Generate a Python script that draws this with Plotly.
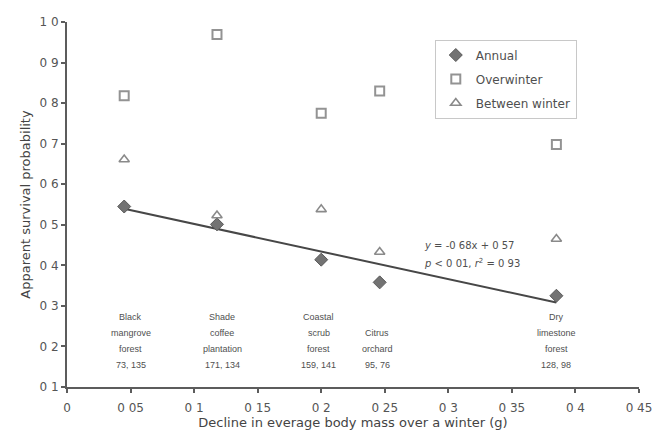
import plotly.graph_objects as go

# Data
habitat_lines = [["Black", "mangrove", "forest", "73, 135"],
                 ["Shade", "coffee", "plantation", "171, 134"],
                 ["Coastal", "scrub", "forest", "159, 141"],
                 ["Citrus", "orchard", "95, 76"],
                 ["Dry", "limestone", "forest", "128, 98"]]
mass_decline = [0.045, 0.118, 0.200, 0.246, 0.385]
label_x = [0.050, 0.122, 0.198, 0.244, 0.385]
annual = [0.545, 0.501, 0.414, 0.358, 0.325]
overwinter = [0.818, 0.969, 0.775, 0.830, 0.698]
between_winter = [0.661, 0.523, 0.538, 0.433, 0.465]
fit_slope = -0.68
fit_intercept = 0.57
fit_x = [0.045, 0.385]
fit_y = [fit_slope * v + fit_intercept for v in fit_x]

x_tickvals = [0, 0.05, 0.1, 0.15, 0.2, 0.25, 0.3, 0.35, 0.4, 0.45]
x_ticktext = ["0", "0 05", "0 1", "0 15", "0 2", "0 25", "0 3", "0 35", "0 4", "0 45"]
y_tickvals = [0.1, 0.2, 0.3, 0.4, 0.5, 0.6, 0.7, 0.8, 0.9, 1.0]
y_ticktext = ["0 1", "0 2", "0 3", "0 4", "0 5", "0 6", "0 7", "0 8", "0 9", "1 0"]

WIDE = "DejaVu Sans, Verdana, sans-serif"
NARROW = "Liberation Sans, Arial, sans-serif"
TXT = "#4f4f4f"
fig = go.Figure()

fig.add_trace(go.Scatter(x=fit_x, y=fit_y, mode="lines",
                         line=dict(color="#474747", width=2), showlegend=False,
                         hoverinfo="skip"))
fig.add_trace(go.Scatter(x=mass_decline, y=annual, mode="markers", name="Annual",
                         legendgroup="a",
                         marker=dict(symbol="diamond", size=10, color="#737373",
                                     line=dict(color="#5a5a5a", width=1))))
fig.add_trace(go.Scatter(x=mass_decline, y=overwinter, mode="markers", name="Overwinter",
                         legendgroup="b",
                         marker=dict(symbol="square-open", size=9, color="#939393",
                                     line=dict(width=2))))
fig.add_trace(go.Scatter(x=mass_decline, y=between_winter, mode="markers", name="Between winter",
                         legendgroup="c",
                         marker=dict(symbol="triangle-up-open", size=9, color="#8a8a8a",
                                     line=dict(width=1.6))))

for hx, lines in zip(label_x, habitat_lines):
    n = len(lines)
    for i, line in enumerate(lines):
        fig.add_annotation(x=hx, y=0.155, yshift=16 * (n - 1 - i), text=line,
                           showarrow=False, xanchor="center", yanchor="middle",
                           font=dict(family=NARROW, size=9, color=TXT))

fig.add_annotation(x=0.279, y=0.45, xanchor="left", yanchor="middle", showarrow=False,
                   text="<i>y</i> = -0 68x + 0 57",
                   font=dict(family=WIDE, size=10, color=TXT))
fig.add_annotation(x=0.279, y=0.406, xanchor="left", yanchor="middle", showarrow=False,
                   text="<i>p</i> < 0 01, <i>r</i><sup>2</sup> = 0 93",
                   font=dict(family=WIDE, size=10, color=TXT))

axis_common = dict(showgrid=False, zeroline=False, showline=True, linecolor="#5c5c5c",
                   linewidth=2, ticks="outside", ticklen=4, tickwidth=1.5,
                   tickcolor="#5c5c5c",
                   tickfont=dict(family=WIDE, size=12, color="#555555"))

fig.update_xaxes(range=[0, 0.45], tickvals=x_tickvals, ticktext=x_ticktext,
                 ticklabelstandoff=5,
                 title=dict(text="Decline in everage body mass over a winter (g)",
                            font=dict(family=WIDE, size=13, color="#444444"), standoff=3),
                 **axis_common)
fig.update_yaxes(range=[0.1, 1.0], tickvals=y_tickvals, ticktext=y_ticktext,
                 title=dict(text="Apparent survival probability",
                            font=dict(family=WIDE, size=13, color="#444444"), standoff=6),
                 **axis_common)

# page body has an 8px margin: figure is sized/margined so the plot area lands at
# x 67..641, y 15..387 of the 667x445 window
fig.update_layout(
    width=651, height=429,
    margin=dict(l=59, r=18, t=7, b=50),
    paper_bgcolor="white", plot_bgcolor="white",
    font=dict(family=WIDE, color=TXT),
    legend=dict(x=0.643, y=0.952, xanchor="left", yanchor="top",
                bordercolor="#c8c8c8", borderwidth=1, bgcolor="white",
                font=dict(family=WIDE, size=12, color=TXT),
                itemwidth=30, tracegroupgap=5),
)

fig.write_html("out.html")
